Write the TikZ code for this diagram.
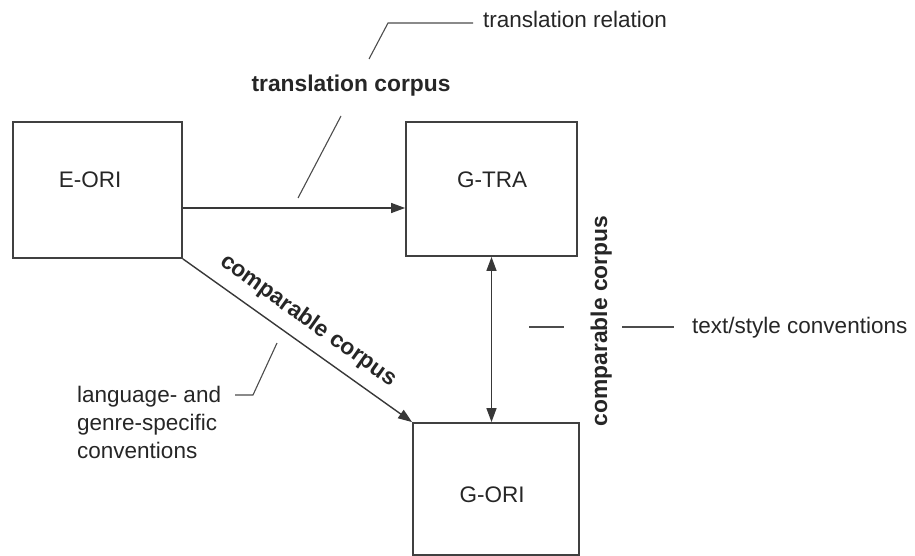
\documentclass[tikz,border=0pt]{standalone}
\usepackage{fontspec}
\setmainfont{Liberation Sans}
\usetikzlibrary{arrows.meta}
\begin{document}
\begin{tikzpicture}[x=1pt,y=-1pt,
  txt/.style={font=\fontsize{22.5}{28}\selectfont, text=black!85, inner sep=0pt},
  bold/.style={txt, font=\fontsize{22.8}{28}\selectfont\bfseries},
  box/.style={draw=black!75, line width=1.8pt, inner sep=0pt},
  conn/.style={draw=black!78, line width=1.4pt},
  tip/.style={-{Triangle[length=14pt,width=10pt]}},
  both/.style={{Triangle[length=14pt,width=10pt]}-{Triangle[length=14pt,width=10pt]}},
  lead/.style={draw=black!70, line width=1.1pt}]
\useasboundingbox (0,0) rectangle (915,556);

% the three corpora
\node[box, minimum width=169pt, minimum height=136pt] (eori) at (97.5,190) {};
\node[box, minimum width=171pt, minimum height=134pt] (gtra) at (491.5,189) {};
\node[box, minimum width=166pt, minimum height=132pt] (gori) at (496,489) {};
\node[txt] (eorit) at (90,180) {E-ORI};
\node[txt] (gtrat) at (492,180) {G-TRA};
\node[txt] (gorit) at (492,495) {G-ORI};

% relations between corpora
\draw[conn,tip] ([yshift=-18pt]eori.east) -- ([yshift=-19pt]gtra.west);
\draw[conn,tip] (eori.south east) -- node[bold, sloped, above=11pt, pos=0.49] (cc1) {comparable corpus} (gori.north west);
\draw[conn,both] (gtra.south) -- (gtra.south |- gori.north);

\node[bold, anchor=base] (tc) at (351,92) {translation corpus};
\node[bold, rotate=90, anchor=base] (cc2) at (607,321) {comparable corpus};

% annotations with leader lines
\node[txt, anchor=base west] (trrel) at (483,28) {translation relation};
\coordinate (tr1) at (298,198);
\coordinate (tr2) at (341,116);
\coordinate (tr3) at (369,59);
\coordinate (tr4) at (388,23);
\coordinate (tr5) at (473,23);
\draw[lead] (tr1) -- (tr2);
\draw[lead] (tr3) -- (tr4) -- (tr5);

\node[txt, anchor=base west, align=left] (lang) at (77,458) {language- and\\genre-specific\\conventions};
\coordinate (lg1) at (235,395);
\coordinate (lg2) at (253,395);
\coordinate (lg3) at (277,343);
\draw[lead] (lg1) -- (lg2) -- (lg3);

\node[txt, anchor=base west] (tsc) at (692,333) {text/style conventions};
\coordinate (ts1) at (529,327);
\coordinate (ts2) at (564,327);
\coordinate (ts3) at (622,327);
\coordinate (ts4) at (674,327);
\draw[lead] (ts1) -- (ts2);
\draw[lead] (ts3) -- (ts4);
\end{tikzpicture}
\end{document}
